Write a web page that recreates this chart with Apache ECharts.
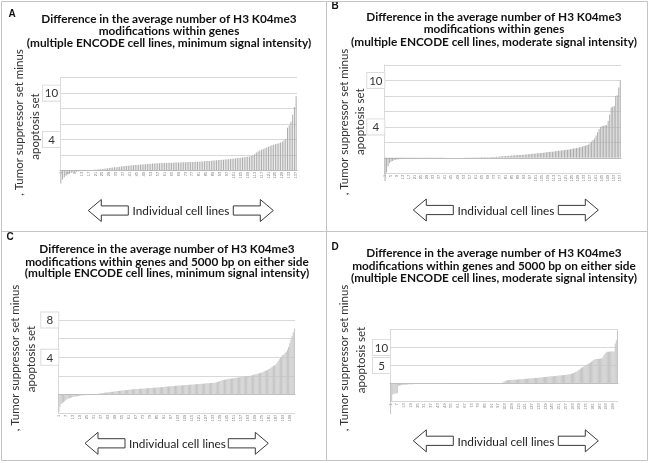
<!DOCTYPE html>
<html><head><meta charset="utf-8">
<script src="https://cdn.jsdelivr.net/npm/echarts@6/dist/echarts.min.js"></script>
<style>html,body{margin:0;padding:0;background:#fff}#c{width:650px;height:463px}</style>
</head><body><div id="c"></div>
<script>
// ---- data ----
const valuesA = [-1.7,-1.2,-0.9,-0.7,-0.55,-0.45,-0.35,-0.3,-0.25,-0.2,
-0.15,-0.12,-0.1,-0.08,-0.05,-0.03,-0.02,0.02,0.04,0.06,
0.08,0.1,0.12,0.15,0.18,0.2,0.23,0.26,0.29,0.32,
0.35,0.38,0.41,0.44,0.47,0.5,0.53,0.56,0.58,0.6,
0.62,0.64,0.66,0.68,0.7,0.72,0.74,0.76,0.78,0.8,
0.82,0.84,0.86,0.88,0.89,0.9,0.91,0.92,0.93,0.94,
0.95,0.96,0.97,0.97,0.98,0.99,1.0,1.0,1.01,1.02,
1.03,1.04,1.05,1.06,1.07,1.08,1.08,1.09,1.1,1.11,
1.12,1.14,1.15,1.17,1.19,1.21,1.22,1.24,1.26,1.28,
1.3,1.32,1.34,1.36,1.38,1.4,1.42,1.44,1.47,1.5,
1.52,1.55,1.58,1.6,1.63,1.66,1.69,1.72,1.76,1.8,
1.85,1.95,2.1,2.3,2.45,2.55,2.65,2.75,2.85,2.95,
3.05,3.15,3.25,3.3,3.4,3.45,3.5,3.6,3.7,3.9,
4.1,5.5,5.8,6.3,7.2,8.2,9.6];
const valuesB = [-3.0,-1.9,-1.1,-0.7,-0.5,-0.4,-0.3,-0.25,-0.2,-0.18,
-0.15,-0.12,-0.1,-0.08,-0.06,-0.05,-0.05,-0.04,-0.04,-0.04,
-0.03,-0.03,-0.03,-0.03,-0.03,-0.02,-0.02,-0.02,-0.02,-0.02,
-0.02,-0.02,-0.01,-0.01,-0.01,-0.01,-0.01,-0.01,-0.01,-0.01,
0.01,0.01,0.01,0.01,0.01,0.01,0.01,0.02,0.02,0.02,
0.02,0.02,0.02,0.03,0.03,0.03,0.03,0.04,0.04,0.04,
0.05,0.05,0.05,0.06,0.06,0.07,0.07,0.08,0.08,0.09,
0.09,0.1,0.1,0.12,0.14,0.15,0.17,0.19,0.2,0.22,
0.23,0.25,0.26,0.28,0.29,0.3,0.32,0.33,0.35,0.37,
0.38,0.4,0.41,0.43,0.44,0.46,0.48,0.5,0.52,0.54,
0.56,0.58,0.6,0.62,0.64,0.66,0.69,0.72,0.74,0.76,
0.78,0.8,0.83,0.85,0.88,0.9,0.92,0.95,0.98,1.0,
1.03,1.06,1.09,1.12,1.15,1.19,1.23,1.27,1.31,1.36,
1.41,1.46,1.52,1.58,1.65,1.72,1.9,2.1,2.3,2.5,
2.9,3.3,3.7,4.0,4.1,4.15,4.2,4.25,4.8,5.6,
6.5,6.6,6.7,8.0,8.1,9.1,10.0];
const valuesC = [-1.9,-1.3,-1.0,-0.9,-0.8,-0.7,-0.6,-0.5,-0.45,-0.4,
-0.35,-0.3,-0.25,-0.22,-0.2,-0.18,-0.16,-0.14,-0.12,-0.1,
-0.08,-0.07,-0.06,-0.05,-0.04,-0.03,-0.02,-0.01,0.0,0.01,
0.02,0.04,0.06,0.08,0.1,0.12,0.14,0.16,0.18,0.2,
0.22,0.24,0.25,0.27,0.28,0.3,0.31,0.33,0.34,0.36,
0.38,0.39,0.41,0.42,0.44,0.45,0.47,0.48,0.5,0.51,
0.52,0.54,0.55,0.57,0.58,0.59,0.6,0.6,0.61,0.62,
0.63,0.64,0.65,0.66,0.67,0.68,0.69,0.7,0.7,0.71,
0.72,0.73,0.74,0.75,0.76,0.77,0.78,0.79,0.8,0.82,
0.83,0.84,0.86,0.87,0.88,0.89,0.9,0.91,0.92,0.93,
0.94,0.95,0.96,0.97,0.98,0.99,1.0,1.01,1.02,1.03,
1.04,1.05,1.06,1.07,1.08,1.09,1.1,1.11,1.12,1.13,
1.14,1.15,1.16,1.17,1.18,1.19,1.2,1.21,1.22,1.23,
1.24,1.25,1.26,1.27,1.28,1.3,1.35,1.4,1.45,1.5,
1.53,1.56,1.59,1.62,1.65,1.67,1.69,1.71,1.73,1.75,
1.77,1.79,1.81,1.83,1.85,1.87,1.89,1.91,1.93,1.95,
1.96,1.97,1.99,2.0,2.03,2.06,2.09,2.12,2.15,2.18,
2.22,2.26,2.3,2.34,2.37,2.4,2.5,2.55,2.6,2.65,
2.75,2.8,2.9,3.0,3.1,3.15,3.2,3.4,3.6,3.8,
3.95,4.1,4.25,4.3,4.45,4.6,4.8,5.1,5.5,5.9,
6.3,6.7,7.1];
const valuesD = [-8.5,-4.8,-3.0,-2.8,-2.8,-2.7,-2.7,-0.6,-0.5,-0.5,
-0.4,-0.4,-0.35,-0.3,-0.3,-0.25,-0.2,-0.2,-0.18,-0.16,
-0.15,-0.14,-0.12,-0.11,-0.1,-0.09,-0.08,-0.07,-0.06,-0.05,
-0.05,-0.04,-0.04,-0.03,-0.03,-0.03,-0.02,-0.02,-0.02,-0.02,
-0.01,-0.01,-0.01,-0.01,-0.01,-0.01,-0.01,-0.01,0.01,0.01,
0.01,0.01,0.01,0.01,0.01,0.02,0.02,0.02,0.02,0.02,
0.02,0.03,0.03,0.03,0.03,0.03,0.04,0.04,0.04,0.04,
0.05,0.05,0.05,0.05,0.06,0.06,0.06,0.07,0.07,0.07,
0.08,0.08,0.08,0.09,0.09,0.1,0.1,0.1,0.11,0.11,
0.12,0.12,0.13,0.13,0.14,0.14,0.15,0.15,0.16,0.17,
0.3,0.5,0.7,0.9,0.92,0.95,0.98,1.0,1.02,1.04,
1.06,1.08,1.1,1.12,1.15,1.18,1.2,1.23,1.26,1.3,
1.32,1.35,1.37,1.4,1.42,1.45,1.47,1.5,1.52,1.55,
1.57,1.6,1.63,1.66,1.7,1.73,1.76,1.8,1.83,1.86,
1.9,1.93,1.96,2.0,2.03,2.06,2.1,2.13,2.16,2.2,
2.23,2.26,2.3,2.33,2.36,2.4,2.43,2.46,2.5,2.55,
2.6,2.7,2.8,2.95,3.1,3.25,3.4,3.6,3.85,4.1,
4.35,4.55,4.7,4.9,5.1,5.3,5.5,5.65,5.8,6.1,
6.3,6.5,6.7,6.8,6.8,6.85,6.85,6.9,6.9,7.3,
7.9,8.3,8.6,8.8,8.8,8.85,8.85,8.9,8.9,8.9,
11.1,12.0,14.7];

const categoriesA = valuesA.map((v, i) => String(i + 1));
const categoriesB = valuesB.map((v, i) => String(i + 1));
const categoriesC = valuesC.map((v, i) => String(i + 1));
const categoriesD = valuesD.map((v, i) => String(i + 1));

const yLabelsA = [4, 10];
const yLabelsB = [4, 10];
const yLabelsC = [4, 8];
const yLabelsD = [5, 10];

const titleA = ['Difference in the average number of H3 K04me3', 'modifications within genes', '(multiple ENCODE cell lines, minimum signal intensity)'];
const titleB = ['Difference in the average number of H3 K04me3', 'modifications within genes', '(multiple ENCODE cell lines, moderate signal intensity)'];
const titleC = ['Difference in the average number of H3 K04me3', 'modifications within genes and 5000 bp on either side', '(multiple ENCODE cell lines, minimum signal intensity)'];
const titleD = ['Difference in the average number of H3 K04me3', 'modifications within genes and 5000 bp on either side', '(multiple ENCODE cell lines, moderate signal intensity)'];
const yTitle = [', Tumor suppressor set minus', 'apoptosis set'];
const xTitle = 'Individual cell lines';

// ---- layout ----
const FONT = 'Lato, "Open Sans", sans-serif';
const panels = [
  {letter:'A', values:valuesA, cats:categoriesA, yl:yLabelsA, title:titleA,
   gx:60, gw:237, gt:77.7, gb:170.3, min:0, max:12, iv:2, li:3, barColor:'#acacac', gap:'45%',
   letterPos:[12,14], tx:169, ty:[19,31.5,43.5], yt1:[19,122.5], yt2:[35,126.5], arrowY:210.5, ax:[88.3,128.3,233.3,273.3], textX:181},
  {letter:'B', values:valuesB, cats:categoriesB, yl:yLabelsB, title:titleB,
   gx:384.3, gw:236.7, gt:65, gb:173.3, min:-2, max:12, iv:2, li:3, barColor:'#acacac', gap:'45%',
   letterPos:[335,6], tx:494, ty:[16.7,29,41.7], yt1:[344,122], yt2:[360,121.7], arrowY:210, ax:[413.3,453.3,558.3,598.3], textX:506},
  {letter:'C', values:valuesC, cats:categoriesC, yl:yLabelsC, title:titleC,
   gx:58.3, gw:236.7, gt:320, gb:413.3, min:-2, max:8, iv:2, li:5, barColor:'#c4c4c4', gap:'15%',
   letterPos:[10,237], tx:167, ty:[249,261.7,273.3], yt1:[15,358], yt2:[31.7,359], arrowY:443.3, ax:[85,125,228.3,268.3], textX:177.5},
  {letter:'D', values:valuesD, cats:categoriesD, yl:yLabelsD, title:titleD,
   gx:390, gw:228, gt:329.3, gb:401.7, min:-5, max:15, iv:5, li:5, barColor:'#c4c4c4', gap:'15%',
   letterPos:[335,247], tx:494, ty:[253.3,266,278.3], yt1:[344,358], yt2:[361.7,360], arrowY:440.8, ax:[413.3,453.3,558.3,598.3], textX:506}
];

const grids = [], xAxes = [], yAxes = [], series = [], graphics = [];

function arrow(x0, x1, cy, dir) {
  const h = 11, s = 4.6, hl = 13;
  let pts;
  if (dir < 0) {
    pts = [[x0,cy],[x0+hl,cy-h],[x0+hl,cy-s],[x1,cy-s],[x1,cy+s],[x0+hl,cy+s],[x0+hl,cy+h]];
  } else {
    pts = [[x1,cy],[x1-hl,cy-h],[x1-hl,cy-s],[x0,cy-s],[x0,cy+s],[x1-hl,cy+s],[x1-hl,cy+h]];
  }
  return {type:'polygon', shape:{points:pts}, style:{fill:'#fff', stroke:'#3a3a3a', lineWidth:1}, z:10};
}

panels.forEach((p, i) => {
  grids.push({left:p.gx, top:p.gt, width:p.gw, height:p.gb - p.gt, containLabel:false});
  xAxes.push({type:'category', gridIndex:i, data:p.cats, boundaryGap:true,
    axisLine:{show:true, onZero:true, lineStyle:{color:'#bdbdbd', width:1}},
    axisTick:{show:false},
    axisLabel:{show:true, interval:p.li, rotate:90, fontSize:4, color:'#777', margin:1.5, fontFamily:'Liberation Sans'},
    splitLine:{show:false}});
  yAxes.push({type:'value', gridIndex:i, min:p.min, max:p.max, interval:p.iv,
    axisLine:{show:true, lineStyle:{color:'#d9d9d9'}},
    axisTick:{show:false},
    splitLine:{show:true, lineStyle:{color:'#d9d9d9', width:1}},
    axisLabel:{show:true, margin:0,
      formatter: (v) => p.yl.indexOf(v) >= 0 ? '{b|' + v + '}' : '',
      rich:{b:{width:15, align:'center', padding:[2,1,1,1], borderColor:'#dcdcdc', borderWidth:1,
        backgroundColor:'#fff', fontSize:11.5, color:'#333', fontFamily:FONT}}}});
  series.push({type:'bar', xAxisIndex:i, yAxisIndex:i, data:p.values, clip:false,
    barCategoryGap:p.gap, itemStyle:{color:p.barColor}, silent:true, animation:false});

  graphics.push({type:'text', x:p.letterPos[0], y:p.letterPos[1], style:{text:p.letter, font:'bold 10px "Liberation Sans"', fill:'#111', textAlign:'center', textVerticalAlign:'middle'}});
  p.title.forEach((t, k) => graphics.push({type:'text', x:p.tx, y:p.ty[k],
    style:{text:t, font:'bold 11.8px ' + FONT, fill:'#111', textAlign:'center', textVerticalAlign:'middle'}}));
  graphics.push({type:'text', x:p.yt1[0], y:p.yt1[1], rotation:Math.PI/2,
    style:{text:yTitle[0], font:'11.5px ' + FONT, fill:'#333', textAlign:'center', textVerticalAlign:'middle'}});
  graphics.push({type:'text', x:p.yt2[0], y:p.yt2[1], rotation:Math.PI/2,
    style:{text:yTitle[1], font:'11.5px ' + FONT, fill:'#333', textAlign:'center', textVerticalAlign:'middle'}});
  graphics.push(arrow(p.ax[0], p.ax[1], p.arrowY, -1));
  graphics.push(arrow(p.ax[2], p.ax[3], p.arrowY, 1));
  graphics.push({type:'text', x:p.textX, y:p.arrowY + 1, style:{text:xTitle, font:'11.8px ' + FONT, fill:'#222', textAlign:'center', textVerticalAlign:'middle'}});
});

// panel borders
const bc = '#c4c4c4';
graphics.push({type:'rect', shape:{x:1.5, y:1.5, width:646, height:459}, style:{fill:null, stroke:bc, lineWidth:1}});
graphics.push({type:'line', shape:{x1:326.5, y1:1.5, x2:326.5, y2:460.5}, style:{stroke:bc, lineWidth:1}});
graphics.push({type:'line', shape:{x1:1.5, y1:231.5, x2:647.5, y2:231.5}, style:{stroke:bc, lineWidth:1}});

const chart = echarts.init(document.getElementById('c'), null, {renderer:'canvas'});
chart.setOption({
  animation:false,
  backgroundColor:'#fff',
  grid:grids, xAxis:xAxes, yAxis:yAxes, series:series,
  graphic:{elements:graphics}
});
</script></body></html>
